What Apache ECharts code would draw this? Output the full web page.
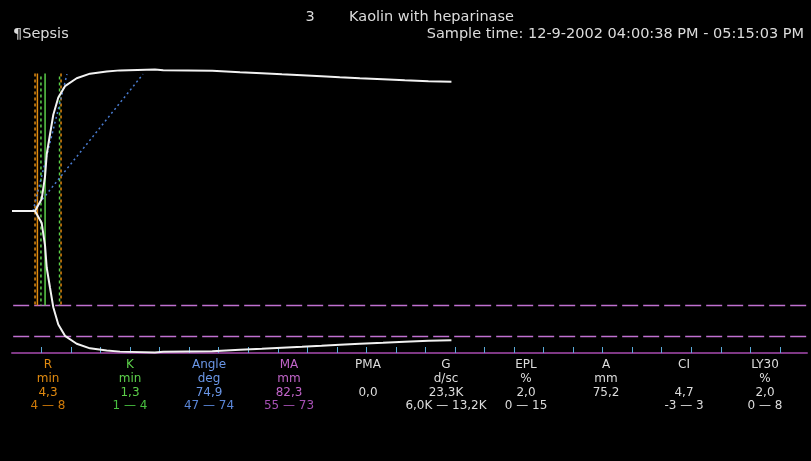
<!DOCTYPE html>
<html>
<head>
<meta charset="utf-8">
<script src="https://cdn.jsdelivr.net/npm/echarts@6/dist/echarts.min.js"></script>
<style>
  html, body { margin: 0; padding: 0; background: #000; }
  #chart { width: 811px; height: 461px; }
</style>
</head>
<body>
<div id="chart"></div>
<script>
// Clot amplitude over time (minutes, mm); the tracing is drawn symmetrically as +A/2 and -A/2
const traceTime = [0, 3.9, 5.03, 5.59, 5.88, 6.43, 6.99, 7.84, 8.97, 10.95, 13.21, 16.03, 18.29, 24.2, 25.6, 33.9, 38.6, 42.3, 45.7, 49.1, 52.4, 55.5, 58.9, 62.8, 66.5, 70.5, 74.4];
const traceAmp  = [0, 0, 7.0, 20.0, 33.0, 44.5, 56.0, 66.0, 72.6, 77.2, 79.9, 81.2, 81.8, 82.3, 81.9, 81.6, 80.7, 80.1, 79.5, 79.0, 78.4, 77.8, 77.2, 76.6, 76.0, 75.5, 75.2];

// Reaction time and kinetics (minutes)
const rTime = 4.3;
const kTime = 1.3;
// Reference markers for R and K (minutes)
const rRangeMarks = [3.9, 8.3];
const kRangeMarks = [4.9, 8.05];
// Vertical extent of the time markers (deflection, mm)
const markerSpan = [40, -27.5];

// Angle construction lines: [time, deflection] end points
const angleSteep   = [[3.56, 0], [9.31, 39.8]];
const angleShallow = [[3.56, 0], [22.18, 39.8]];

// Normal MA range (mm), shown as dashed levels under the tracing
const maRange = [55, 73];

// Time scale ticks every 5 minutes
const tickStep = 5;

// Parameter table
const paramNames  = ['R', 'K', 'Angle', 'MA', 'PMA', 'G', 'EPL', 'A', 'CI', 'LY30'];
const paramUnits  = ['min', 'min', 'deg', 'mm', '', 'd/sc', '%', 'mm', '', '%'];
const paramValues = ['4,3', '1,3', '74,9', '82,3', '0,0', '23,3K', '2,0', '75,2', '4,7', '2,0'];
const paramRanges = ['4 \u2014 8', '1 \u2014 4', '47 \u2014 74', '55 \u2014 73', '', '6,0K \u2014 13,2K', '0 \u2014 15', '', '-3 \u2014 3', '0 \u2014 8'];

const timeMax = 134.6;
const FONT = '"DejaVu Sans", Verdana, sans-serif';

const colors = {
  trace: '#f2f2f2',
  r: '#e08a10', rRange: '#d07a08',
  k: '#5ccf4a', kRange: '#48c040',
  angle: '#6a96e6', angleRange: '#5a86d8',
  ma: '#c064c8', maRange: '#a650b4',
  plain: '#dcdcdc',
  maLine: '#c070d0',
  angleLine: '#4a7cd0'
};
const headColors  = [colors.r, colors.k, colors.angle, colors.ma, colors.plain, colors.plain, colors.plain, colors.plain, colors.plain, colors.plain];
const rangeColors = [colors.rRange, colors.kRange, colors.angleRange, colors.maRange, colors.plain, colors.plain, colors.plain, colors.plain, colors.plain, colors.plain];
const colX = [48, 130, 209, 289, 368, 446, 526, 606, 684, 765];
const rowY = [365, 379, 392.5, 406];

const chart = echarts.init(document.getElementById('chart'), null, { renderer: 'canvas' });

function vLine(t, color, type) {
  return {
    type: 'line', symbol: 'none', silent: true, z: 3,
    data: [[t, markerSpan[0]], [t, markerSpan[1]]],
    lineStyle: { color: color, width: 1.5, type: type }
  };
}

const series = [];
// Time markers
rRangeMarks.forEach(t => series.push(vLine(t, colors.r, [3, 3])));
kRangeMarks.forEach(t => {
  const s = vLine(t, colors.k, [3, 3]);
  s.lineStyle.dashOffset = 3;
  series.push(s);
});
series.push(vLine(rTime, colors.r, 'solid'));
series.push(vLine(rTime + kTime, colors.k, 'solid'));

// Angle lines
[angleSteep, angleShallow].forEach(pts => series.push({
  type: 'line', symbol: 'none', silent: true, z: 3,
  data: pts,
  lineStyle: { color: colors.angleLine, width: 1.5, type: [2, 3] }
}));

// MA range levels
maRange.forEach(v => series.push({
  type: 'line', symbol: 'none', silent: true, z: 2,
  data: [[0.2, -v / 2], [timeMax, -v / 2]],
  lineStyle: { color: colors.maLine, width: 1.5, type: [16, 5] }
}));

// Tracing (upper and lower branch)
series.push({
  type: 'line', symbol: 'none', silent: true, z: 5,
  data: traceTime.map((t, i) => [t, traceAmp[i] / 2]),
  lineStyle: { color: colors.trace, width: 2 }
});
series.push({
  type: 'line', symbol: 'none', silent: true, z: 5,
  data: traceTime.map((t, i) => [t, -traceAmp[i] / 2]),
  lineStyle: { color: colors.trace, width: 2 }
});

// Text: header and parameter table
const graphics = [];
function txt(x, y, text, fill, align) {
  graphics.push({
    type: 'text', x: x, y: y, silent: true,
    style: { text: text, fill: fill, font: '12px ' + FONT, align: align || 'center', verticalAlign: 'middle' }
  });
}
function head(x, y, text, align) {
  graphics.push({
    type: 'text', x: x, y: y, silent: true,
    style: { text: text, fill: colors.plain, font: '14.5px ' + FONT, align: align, verticalAlign: 'middle' }
  });
}
head(310, 17, '3', 'center');
head(349, 17, 'Kaolin with heparinase', 'left');
head(13, 34, '\u00b6Sepsis', 'left');
head(804, 34, 'Sample time: 12-9-2002 04:00:38 PM - 05:15:03 PM', 'right');

paramNames.forEach((n, i) => {
  txt(colX[i], rowY[0], n, headColors[i]);
  txt(colX[i], rowY[1], paramUnits[i], headColors[i]);
  txt(colX[i], rowY[2], paramValues[i], headColors[i]);
  txt(colX[i], rowY[3], paramRanges[i], rangeColors[i]);
});

const tickValues = [];
for (let v = tickStep; v < timeMax; v += tickStep) tickValues.push(v);

chart.setOption({
  backgroundColor: '#000',
  animation: false,
  grid: { left: 12, right: 4, top: 69, bottom: 108 },
  xAxis: {
    type: 'value', min: 0, max: timeMax, interval: tickStep,
    axisLine: { onZero: false, lineStyle: { color: '#7e3884', width: 2 } },
    axisTick: { inside: true, length: 6, customValues: tickValues, lineStyle: { color: '#5aaad8', width: 1 } },
    axisLabel: { show: false },
    splitLine: { show: false }
  },
  yAxis: {
    type: 'value', min: -41.3, max: 41.3, show: false
  },
  series: series,
  graphic: graphics
});
</script>
</body>
</html>
